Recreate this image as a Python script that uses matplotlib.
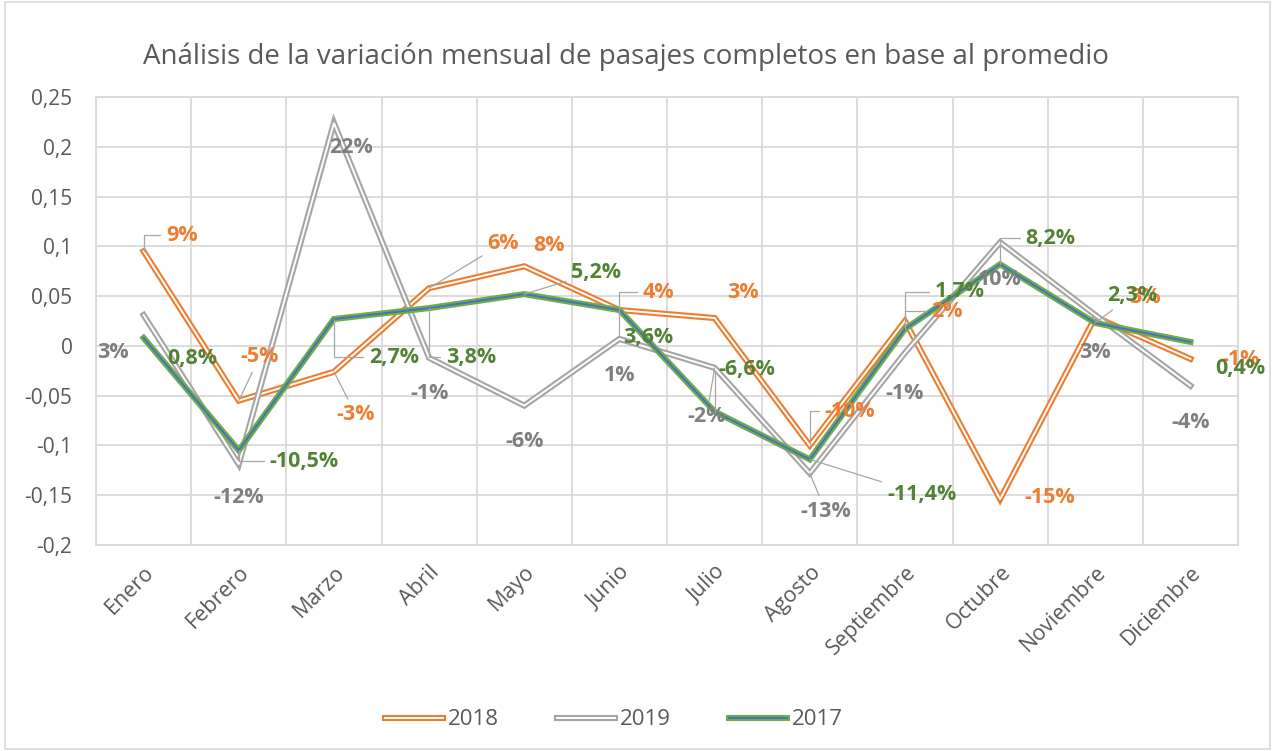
import matplotlib
matplotlib.use("Agg")
import matplotlib.pyplot as plt
import matplotlib.patheffects as pe
from matplotlib.patches import Rectangle

plt.rcParams['font.family'] = ['Open Sans', 'DejaVu Sans']

meses = ['Enero', 'Febrero', 'Marzo', 'Abril', 'Mayo', 'Junio', 'Julio',
         'Agosto', 'Septiembre', 'Octubre', 'Noviembre', 'Diciembre']

v2018 = [0.095, -0.055, -0.026, 0.058, 0.080, 0.036, 0.028, -0.100, 0.025, -0.154, 0.029, -0.013]
v2019 = [0.031, -0.119, 0.224, -0.012, -0.060, 0.007, -0.022, -0.128, -0.007, 0.104, 0.031, -0.040]
v2017 = [0.008, -0.105, 0.027, 0.038, 0.052, 0.036, -0.066, -0.114, 0.017, 0.082, 0.023, 0.004]

lab2018 = ['9%', '-5%', '-3%', '6%', '8%', '4%', '3%', '-10%', '2%', '-15%', '3%', '-1%']
lab2019 = ['3%', '-12%', '22%', '-1%', '-6%', '1%', '-2%', '-13%', '-1%', '10%', '3%', '-4%']
lab2017 = ['0,8%', '-10,5%', '2,7%', '3,8%', '5,2%', '3,6%', '-6,6%', '-11,4%', '1,7%', '8,2%', '2,3%', '0,4%']

yticks = [-0.2, -0.15, -0.1, -0.05, 0, 0.05, 0.1, 0.15, 0.2, 0.25]
ytick_labels = ['-0,2', '-0,15', '-0,1', '-0,05', '0', '0,05', '0,1', '0,15', '0,2', '0,25']

# label offsets in pixels (dx, dy) and leader style: None, 'e' elbow, 's' straight
off2018 = [(38, 16), (21, 44), (22, -43), (74, 45), (25, 21), (39, 18), (28, 26),
           (40, 34), (42, 10), (50, 2), (50, 20), (50, -1)]
lead2018 = ['e', 's', 's', 's', None, 'e', None, 'e', 'e', None, None, None]
off2019 = [(-31, -37), (0, -33), (17, -25), (0, -36), (0, -36), (0, -37), (-8, -49),
           (16, -38), (0, -41), (0, -37), (0, -37), (0, -37)]
lead2019 = [None, None, None, None, None, None, 's', 's', None, None, None, None]
off2017 = [(49, -21), (65, -11), (60, -38), (42, -49), (72, 22), (29, -27), (32, 42),
           (112, -35), (55, 37), (50, 26), (37, 28), (50, -27)]
lead2017 = [None, 'e', 'e', 'e', 's', 'e', 'e', 's', 'e', 'e', 's', None]

fig = plt.figure(figsize=(12.75, 7.51), dpi=100)
ax = fig.add_axes([0.0753, 0.2743, 0.8957, 0.5965])
fig.patches.append(Rectangle((0.004, 0.003), 0.992, 0.994, transform=fig.transFigure,
                             fill=False, edgecolor='#d9d9d9', linewidth=1.2))

x = list(range(len(meses)))

series = [
    ('2018', v2018, '#ed7d31', 'white', '#ed7d31', lab2018, off2018, lead2018),
    ('2019', v2019, '#a5a5a5', 'white', '#7f7f7f', lab2019, off2019, lead2019),
    ('2017', v2017, '#70ad47', '#4472c4', '#548235', lab2017, off2017, lead2017),
]

for name, vals, outer, inner, tcol, labs, offs, leads in series:
    ax.plot(x, vals, color=inner, lw=1.4, solid_joinstyle='miter', label=name, zorder=3,
            path_effects=[pe.Stroke(linewidth=4.4, foreground=outer, joinstyle='miter'), pe.Normal()])

for name, vals, outer, inner, tcol, labs, offs, leads in series:
    for i in range(len(vals)):
        arrow = None
        if leads[i] == 'e':
            arrow = dict(arrowstyle='-', color='#a6a6a6', lw=0.9, shrinkA=2, shrinkB=0,
                         connectionstyle='angle,angleA=0,angleB=90,rad=0')
        elif leads[i] == 's':
            arrow = dict(arrowstyle='-', color='#a6a6a6', lw=0.9, shrinkA=2, shrinkB=0)
        ax.annotate(labs[i], (x[i], vals[i]), xytext=offs[i], textcoords='offset pixels',
                    ha='center', va='center', fontsize=15.5, fontweight='bold', color=tcol,
                    arrowprops=arrow, zorder=5, annotation_clip=False)

ax.set_xlim(-0.5, 11.5)
ax.set_ylim(-0.2, 0.25)
ax.set_yticks(yticks)
ax.set_yticklabels(ytick_labels, fontsize=15, color='#595959')
ax.set_xticks(x)
ax.set_xticklabels(meses, fontsize=15.5, color='#595959', rotation=45, ha='right',
                   rotation_mode='anchor')
ax.set_xticks([i - 0.5 for i in range(len(meses) + 1)], minor=True)
ax.tick_params(axis='both', which='both', length=0)
ax.tick_params(axis='y', pad=17)
ax.tick_params(axis='x', pad=12)
ax.grid(axis='y', which='major', color='#d9d9d9', lw=1.3)
ax.grid(axis='x', which='minor', color='#d9d9d9', lw=1.3)
ax.set_axisbelow(True)
for s in ax.spines.values():
    s.set_color('#d9d9d9')
    s.set_linewidth(1.3)

fig.text(0.491, 0.925, 'Análisis de la variación mensual de pasajes completos en base al promedio',
         ha='center', va='center', fontsize=20, color='#595959')

leg = fig.legend(loc='center', bbox_to_anchor=(0.4816, 0.0413), ncol=3, frameon=False,
                 fontsize=16, handlelength=2.6, handletextpad=0.25, columnspacing=2.6)
for t in leg.get_texts():
    t.set_color('#595959')

fig.savefig('out.png', dpi=100)
